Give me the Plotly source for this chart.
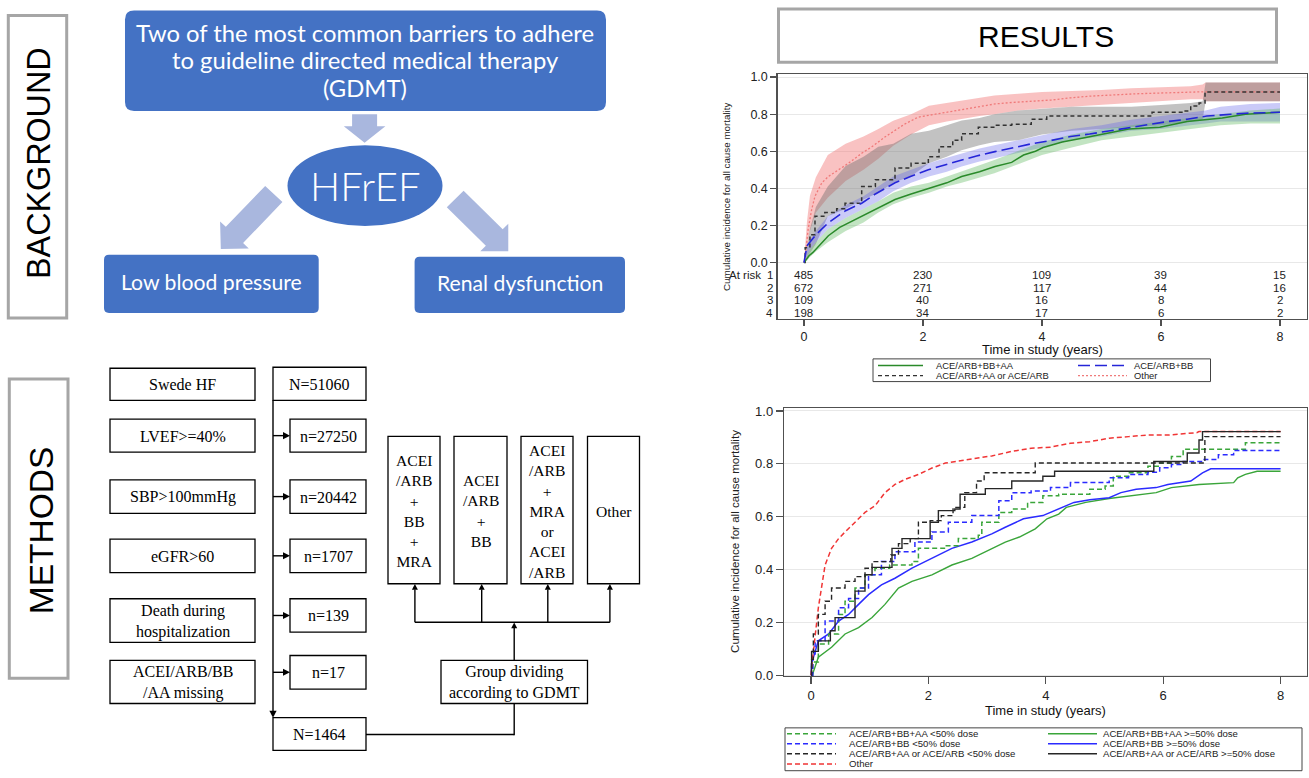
import math
import plotly.graph_objects as go

W, H = 1309, 778
def X(p): return p / W
def Y(p): return 1 - p / H

ARIAL = "Arial, Liberation Sans, sans-serif"
SERIF = "Times New Roman, Liberation Serif, serif"
CAL = "Lato, Open Sans, sans-serif"

# ---------------- text content ----------------
section_titles = ["BACKGROUND", "METHODS", "RESULTS"]
bg_top_lines = ["Two of the most common barriers to adhere", "to guideline directed medical therapy", "(GDMT)"]
bg_center = "HFrEF"
bg_barriers = ["Low blood pressure", "Renal dysfunction"]

left_labels = ["Swede HF", "LVEF&gt;=40%", "SBP&gt;100mmHg", "eGFR&gt;60",
               "Death during<br>hospitalization", "ACEI/ARB/BB<br>/AA missing"]
count_labels = ["N=51060", "n=27250", "n=20442", "n=1707", "n=139", "n=17"]
final_label = "N=1464"
group_divide_label = "Group dividing<br>according to GDMT"
group_labels = ["ACEI<br>/ARB<br>+<br>BB<br>+<br>MRA", "ACEI<br>/ARB<br>+<br>BB",
                "ACEI<br>/ARB<br>+<br>MRA<br>or<br>ACEI<br>/ARB", "Other"]

# ---------------- chart 1 data (with confidence bands) ----------------
km1_names = ["ACE/ARB+BB+AA", "ACE/ARB+BB", "ACE/ARB+AA or ACE/ARB", "Other"]

km1_green_t = [0, 0.085, 0.15, 0.25, 0.41, 0.6, 0.97, 1.2, 1.53, 1.8, 2.09, 2.4, 2.65, 2.95, 3.21, 3.49, 3.69,
               3.89, 4.02, 4.34, 4.67, 5.13, 5.46, 5.98, 6.44, 7.03, 7.42, 8.0]
km1_green_v = [0, 0.037, 0.055, 0.09, 0.145, 0.19, 0.25, 0.29, 0.34, 0.37, 0.40, 0.43, 0.464, 0.49, 0.518, 0.54, 0.58,
               0.60, 0.62, 0.65, 0.67, 0.70, 0.72, 0.73, 0.76, 0.78, 0.80, 0.81]

km1_blue_t = [0, 0.05, 0.2, 0.41, 0.7, 0.97, 1.2, 1.53, 1.8, 2.09, 2.35, 2.65, 2.9, 3.21, 3.49, 3.82, 4.15, 4.48,
              4.8, 5.13, 5.46, 5.79, 6.11, 6.44, 6.77, 7.42, 8.0]
km1_blue_v = [0, 0.09, 0.15, 0.215, 0.28, 0.32, 0.37, 0.43, 0.465, 0.50, 0.525, 0.553, 0.575, 0.598, 0.617, 0.64,
              0.658, 0.68, 0.693, 0.71, 0.727, 0.745, 0.76, 0.773, 0.79, 0.805, 0.81]

km1_black_t = [0, 0.02, 0.1, 0.185, 0.35, 0.55, 0.69, 0.97, 1.2, 1.53, 1.8, 2.09, 2.27, 2.5, 2.65, 2.93, 3.21, 3.49,
               3.82, 4.08, 5.85, 6.38, 6.5, 6.64, 6.74, 8.0]
km1_black_v = [0, 0.08, 0.15, 0.25, 0.27, 0.29, 0.32, 0.41, 0.446, 0.51, 0.535, 0.57, 0.624, 0.66, 0.695, 0.73, 0.74,
               0.745, 0.773, 0.79, 0.81, 0.817, 0.844, 0.86, 0.92, 0.92]

km1_pink_t = [0, 0.017, 0.07, 0.13, 0.185, 0.3, 0.41, 0.58, 0.745, 0.97, 1.14, 1.36, 1.53, 1.7, 1.92, 2.2, 2.54,
              2.87, 3.21, 3.49, 3.82, 4.15, 4.48, 4.8, 5.59, 6.31, 6.64, 8.0]
km1_pink_v = [0, 0.02, 0.18, 0.287, 0.358, 0.43, 0.464, 0.50, 0.535, 0.589, 0.624, 0.677, 0.713, 0.748, 0.784, 0.80,
              0.819, 0.837, 0.855, 0.863, 0.868, 0.876, 0.888, 0.897, 0.91, 0.915, 0.92, 0.92]

band_t = [0, 0.05, 0.1, 0.2, 0.4, 0.7, 1.0, 1.25, 1.5, 1.8, 2.1, 2.4, 2.65, 2.95, 3.2, 3.6, 4.0, 4.5, 5.0, 5.5,
          6.0, 6.5, 6.7, 6.75, 7.0, 7.5, 8.0]
pink_lo = [0, 0.08, 0.17, 0.27, 0.35, 0.44, 0.50, 0.56, 0.63, 0.69, 0.74, 0.76, 0.775, 0.79, 0.80, 0.82, 0.83, 0.84,
           0.85, 0.86, 0.87, 0.88, 0.88, 0.87, 0.87, 0.87, 0.87]
pink_hi = [0, 0.22, 0.36, 0.46, 0.58, 0.64, 0.68, 0.72, 0.765, 0.80, 0.845, 0.86, 0.872, 0.885, 0.90, 0.91, 0.92,
           0.925, 0.93, 0.94, 0.945, 0.95, 0.96, 0.97, 0.97, 0.97, 0.97]
gray_lo = [0, 0.02, 0.05, 0.10, 0.25, 0.29, 0.34, 0.376, 0.43, 0.465, 0.535, 0.57, 0.606, 0.633, 0.65, 0.66, 0.69,
           0.71, 0.72, 0.73, 0.74, 0.76, 0.77, 0.87, 0.87, 0.87, 0.87]
gray_hi = [0, 0.10, 0.18, 0.30, 0.41, 0.52, 0.57, 0.624, 0.64, 0.695, 0.71, 0.74, 0.766, 0.78, 0.80, 0.82, 0.83,
           0.84, 0.84, 0.84, 0.85, 0.86, 0.87, 0.97, 0.97, 0.97, 0.97]
blue_lo = [0, 0.04, 0.07, 0.11, 0.18, 0.24, 0.287, 0.33, 0.385, 0.43, 0.464, 0.49, 0.518, 0.545, 0.562, 0.59, 0.62,
           0.66, 0.68, 0.71, 0.72, 0.74, 0.75, 0.75, 0.76, 0.76, 0.76]
blue_hi = [0, 0.08, 0.12, 0.17, 0.25, 0.31, 0.358, 0.41, 0.464, 0.50, 0.535, 0.565, 0.589, 0.615, 0.633, 0.66, 0.69,
           0.72, 0.74, 0.77, 0.79, 0.81, 0.82, 0.82, 0.84, 0.855, 0.86]
green_lo = [0, 0.01, 0.03, 0.06, 0.11, 0.17, 0.216, 0.27, 0.314, 0.35, 0.376, 0.41, 0.43, 0.46, 0.482, 0.53, 0.58,
            0.62, 0.66, 0.68, 0.70, 0.72, 0.73, 0.73, 0.74, 0.75, 0.75]
green_hi = [0, 0.04, 0.07, 0.11, 0.18, 0.24, 0.287, 0.33, 0.376, 0.41, 0.43, 0.465, 0.49, 0.525, 0.553, 0.60, 0.65,
            0.69, 0.72, 0.74, 0.76, 0.78, 0.79, 0.79, 0.80, 0.82, 0.83]

risk_times = [0, 2, 4, 6, 8]
risk_row_labels = ["1", "2", "3", "4"]
risk_g1 = [485, 230, 109, 39, 15]
risk_g2 = [672, 271, 117, 44, 16]
risk_g3 = [109, 40, 16, 8, 2]
risk_g4 = [198, 34, 17, 6, 2]

# ---------------- chart 2 data (by dose) ----------------
km2_names = ["ACE/ARB+BB+AA &lt;50% dose", "ACE/ARB+BB &lt;50% dose", "ACE/ARB+AA or ACE/ARB &lt;50% dose", "Other",
             "ACE/ARB+BB+AA &gt;=50% dose", "ACE/ARB+BB &gt;=50% dose", "ACE/ARB+AA or ACE/ARB &gt;=50% dose"]

g_lo_t = [0, 0.03, 0.125, 0.3, 0.47, 0.58, 0.75, 0.92, 1.09, 1.34, 1.72, 1.83, 2.29, 2.51, 2.85, 2.91, 3.2, 3.42,
          3.69, 3.95, 4.22, 4.75, 5.01, 5.15, 5.41, 5.74, 5.94, 6.14, 6.34, 7.4, 8.0]
g_lo_v = [0, 0.05, 0.118, 0.156, 0.23, 0.28, 0.33, 0.38, 0.405, 0.417, 0.43, 0.48, 0.49, 0.517, 0.53, 0.579, 0.616,
          0.629, 0.654, 0.679, 0.685, 0.704, 0.716, 0.753, 0.766, 0.791, 0.803, 0.828, 0.855, 0.88, 0.88]

g_hi_t = [0, 0.03, 0.125, 0.35, 0.58, 0.81, 1.04, 1.26, 1.49, 1.72, 2.06, 2.4, 2.74, 3.08, 3.31, 3.55, 3.82, 4.02,
          4.22, 4.35, 4.68, 5.08, 5.41, 5.88, 6.14, 6.61, 7.2, 7.27, 7.4, 7.6, 8.0]
g_hi_v = [0, 0.006, 0.068, 0.106, 0.156, 0.18, 0.218, 0.268, 0.33, 0.355, 0.38, 0.417, 0.442, 0.48, 0.504, 0.523,
          0.554, 0.592, 0.61, 0.635, 0.654, 0.669, 0.679, 0.691, 0.71, 0.722, 0.729, 0.747, 0.76, 0.772, 0.772]

b_lo_t = [0, 0.03, 0.07, 0.24, 0.47, 0.64, 0.81, 0.98, 1.2, 1.43, 1.77, 2.06, 2.34, 2.74, 3.2, 3.42, 3.75, 4.08,
          4.42, 4.75, 5.08, 5.41, 5.74, 5.94, 6.14, 6.34, 6.67, 6.94, 7.2, 8.0]
b_lo_v = [0, 0.08, 0.13, 0.205, 0.255, 0.29, 0.33, 0.38, 0.43, 0.467, 0.504, 0.542, 0.579, 0.604, 0.66, 0.691, 0.697,
          0.71, 0.729, 0.729, 0.747, 0.76, 0.768, 0.785, 0.797, 0.809, 0.816, 0.834, 0.85, 0.85]

b_hi_t = [0, 0.01, 0.125, 0.3, 0.47, 0.64, 0.81, 0.98, 1.2, 1.43, 1.72, 2.06, 2.4, 2.74, 3.08, 3.31, 3.62, 3.95,
          4.22, 4.48, 4.75, 5.08, 5.28, 5.54, 5.88, 6.08, 6.47, 6.67, 6.81, 8.0]
b_hi_v = [0, 0.044, 0.13, 0.156, 0.205, 0.23, 0.268, 0.305, 0.342, 0.367, 0.405, 0.442, 0.48, 0.504, 0.535, 0.56,
          0.592, 0.604, 0.629, 0.654, 0.664, 0.672, 0.691, 0.704, 0.71, 0.722, 0.735, 0.766, 0.781, 0.781]

k_lo_t = [0, 0.01, 0.04, 0.125, 0.24, 0.35, 0.58, 0.75, 0.92, 1.04, 1.36, 1.49, 1.69, 1.83, 2.03, 2.22, 2.42, 2.62,
          2.82, 2.95, 3.78, 3.82, 6.67, 6.71, 8.0]
k_lo_v = [0, 0.06, 0.156, 0.23, 0.28, 0.33, 0.355, 0.373, 0.405, 0.43, 0.455, 0.498, 0.517, 0.579, 0.585, 0.604,
          0.635, 0.691, 0.735, 0.766, 0.766, 0.803, 0.803, 0.903, 0.903]

k_hi_t = [0, 0.01, 0.125, 0.3, 0.33, 0.41, 0.58, 0.75, 0.92, 1.04, 1.26, 1.38, 1.55, 2.0, 2.03, 2.17, 2.45, 2.54,
          2.97, 3.42, 3.95, 4.15, 5.81, 5.84, 6.34, 6.41, 6.61, 6.67, 8.0]
k_hi_v = [0, 0.09, 0.13, 0.13, 0.168, 0.218, 0.218, 0.318, 0.38, 0.408, 0.408, 0.48, 0.517, 0.517, 0.579, 0.623,
          0.629, 0.685, 0.706, 0.735, 0.753, 0.772, 0.772, 0.809, 0.809, 0.841, 0.89, 0.922, 0.922]

r_t = [0, 0.01, 0.125, 0.24, 0.35, 0.47, 0.58, 0.75, 0.92, 1.09, 1.26, 1.43, 1.6, 1.83, 2.06, 2.29, 2.63, 3.08,
       3.42, 3.75, 4.08, 4.42, 4.75, 5.08, 5.41, 5.74, 6.08, 6.57, 6.61, 8.0]
r_v = [0, 0.03, 0.255, 0.417, 0.48, 0.517, 0.542, 0.579, 0.616, 0.641, 0.691, 0.722, 0.741, 0.76, 0.784, 0.803,
       0.815, 0.83, 0.847, 0.859, 0.863, 0.878, 0.884, 0.897, 0.903, 0.909, 0.909, 0.918, 0.922, 0.922]

x_ticks = [0, 2, 4, 6, 8]
y_ticks = [0.0, 0.2, 0.4, 0.6, 0.8, 1.0]
x_title = "Time in study (years)"
y_title = "Cumulative incidence for all cause mortality"

# ---------------- colours ----------------
BLUE_BOX = "#4472C4"
ARROW = "#A9B7DE"
SEC_GRAY = "#A6A6A6"

shapes = []
annotations = []

def pt(x, y):
    return "%.5f,%.5f" % (X(x), Y(y))

def poly(points, fill, line_color=None, lw=0):
    path = "M " + " L ".join(pt(*p) for p in points) + " Z"
    shapes.append(dict(type="path", xref="paper", yref="paper", path=path, fillcolor=fill,
                       line=dict(color=line_color or fill, width=lw), layer="above"))

def rect(x0, y0, x1, y1, color="black", lw=1.3, fill="white"):
    shapes.append(dict(type="rect", xref="paper", yref="paper", x0=X(x0), x1=X(x1), y0=Y(y1), y1=Y(y0),
                       line=dict(color=color, width=lw), fillcolor=fill, layer="above"))

def rrect(x0, y0, x1, y1, r, fill):
    p = ("M %s L %s Q %s %s L %s Q %s %s L %s Q %s %s L %s Q %s %s Z" % (
        pt(x0 + r, y0), pt(x1 - r, y0), pt(x1, y0), pt(x1, y0 + r), pt(x1, y1 - r), pt(x1, y1), pt(x1 - r, y1),
        pt(x0 + r, y1), pt(x0, y1), pt(x0, y1 - r), pt(x0, y0 + r), pt(x0, y0), pt(x0 + r, y0)))
    shapes.append(dict(type="path", xref="paper", yref="paper", path=p, fillcolor=fill,
                       line=dict(color=fill, width=0), layer="above"))

def line(x0, y0, x1, y1, color="black", lw=1.4, dash=None):
    d = dict(color=color, width=lw)
    if dash:
        d["dash"] = dash
    shapes.append(dict(type="line", xref="paper", yref="paper", x0=X(x0), y0=Y(y0), x1=X(x1), y1=Y(y1),
                       line=d, layer="above"))

def text(x, y, s, size, family, color="black", angle=0, xanchor="center", weight=None):
    f = dict(size=size, family=family, color=color)
    if weight:
        f["weight"] = weight
    annotations.append(dict(xref="paper", yref="paper", x=X(x), y=Y(y), text=s, showarrow=False,
                            xanchor=xanchor, yanchor="middle", font=f, textangle=angle, borderpad=0))

def block_arrow(tail, tip, shw, hhw, hl, fill):
    dx, dy = tip[0] - tail[0], tip[1] - tail[1]
    L = math.hypot(dx, dy)
    ux, uy = dx / L, dy / L
    nx, ny = -uy, ux
    bx, by = tip[0] - ux * hl, tip[1] - uy * hl
    pts = [(tail[0] + nx * shw, tail[1] + ny * shw), (bx + nx * shw, by + ny * shw),
           (bx + nx * hhw, by + ny * hhw), tip, (bx - nx * hhw, by - ny * hhw),
           (bx - nx * shw, by - ny * shw), (tail[0] - nx * shw, tail[1] - ny * shw)]
    poly(pts, fill)

def head(tip, direction, length=7, hw=3.6):
    ux, uy = direction
    nx, ny = -uy, ux
    bx, by = tip[0] - ux * length, tip[1] - uy * length
    poly([(bx + nx * hw, by + ny * hw), tip, (bx - nx * hw, by - ny * hw)], "black")

# ---------------- BACKGROUND ----------------
rect(8.3, 11.7, 66.7, 318, color=SEC_GRAY, lw=3, fill="rgba(0,0,0,0)")
text(39, 161, section_titles[0], 32.3, ARIAL, angle=-90)
rrect(125, 6.7, 606, 108.3, 9, BLUE_BOX)
for yy, s in zip([29, 57, 85], bg_top_lines):
    text(365, yy, s, 23.8, CAL, color="white")
block_arrow((364.6, 111.7), (364.6, 140.5), 12.5, 20.8, 16.7, ARROW)
shapes.append(dict(type="circle", xref="paper", yref="paper", x0=X(287.5), x1=X(442.5), y0=Y(225), y1=Y(143),
                   fillcolor=BLUE_BOX, line=dict(color=BLUE_BOX, width=0), layer="above"))
text(365, 184, bg_center, 40, CAL, color="white", weight=300)
block_arrow((273.8, 192.5), (220.8, 248.3), 11.9, 19.8, 19.8, ARROW)
block_arrow((455.2, 197.5), (508.3, 250.5), 11.9, 19.8, 19.8, ARROW)
rrect(104, 254, 318.7, 313, 5, BLUE_BOX)
rrect(414.6, 256, 625, 313, 5, BLUE_BOX)
text(211, 282, bg_barriers[0], 21.2, CAL, color="white")
text(519.5, 283, bg_barriers[1], 21.2, CAL, color="white")

# ---------------- METHODS ----------------
rect(9.3, 380, 68, 683, color=SEC_GRAY, lw=3, fill="rgba(0,0,0,0)")
text(41, 533, section_titles[1], 33.5, ARIAL, angle=-90)

left_y = [(369, 401.5), (420.5, 454), (482, 516), (542, 576), (602.5, 646.6), (665, 708.6)]
count_y = [(368, 401.5), (420.5, 454), (482, 516), (542, 576), (602.5, 636.4), (660, 694)]
for (y0, y1), lab in zip(left_y, left_labels):
    rect(110, y0, 255, y1)
    text(182.5, (y0 + y1) / 2 + 0.5, lab, 16, SERIF)
for i, ((y0, y1), lab) in enumerate(zip(count_y, count_labels)):
    if i == 0:
        rect(273, y0, 366, y1)
        text(319.5, (y0 + y1) / 2 + 0.5, lab, 16, SERIF)
    else:
        rect(290, y0, 366, y1)
        text(328, (y0 + y1) / 2 + 0.5, lab, 16, SERIF)
        ym = (y0 + y1) / 2
        line(273, ym, 285, ym)
        head((290, ym), (1, 0))
line(273, 401.5, 273, 717)
head((273, 723), (0, 1))
rect(273, 723, 366, 756)
text(319.5, 740, final_label, 16, SERIF)
line(366, 740, 514.2, 740)
line(514.2, 740.7, 514.2, 708.6)
rect(441, 665, 587.5, 708.6)
text(514.2, 687.5, group_divide_label, 16, SERIF)
line(514.2, 665, 514.2, 631)
head((514.2, 626.5), (0, -1), length=6, hw=3)
line(414.9, 626.3, 609.9, 626.3)
group_x = [(388, 440), (454, 507), (521, 573), (587.5, 639.5)]
arrow_x = [414.9, 481.7, 547.8, 609.9]
for (x0, x1), ax, lab in zip(group_x, arrow_x, group_labels):
    rect(x0, 438, x1, 587.3)
    text((x0 + x1) / 2, 514, lab, 15.6, SERIF)
    line(ax, 626.3, ax, 593)
    head((ax, 587.5), (0, -1), length=6, hw=3)

# ---------------- RESULTS ----------------
rect(778.5, 5, 1276.5, 59, color=SEC_GRAY, lw=3, fill="rgba(0,0,0,0)")
text(1046, 33, section_titles[2], 30, ARIAL)

# ---------------- chart traces ----------------
fig = go.Figure()

def band(lo, hi, color, xa, ya):
    fig.add_trace(go.Scatter(x=band_t, y=lo, mode="lines", line=dict(width=0),
                             xaxis=xa, yaxis=ya, hoverinfo="skip", showlegend=False))
    fig.add_trace(go.Scatter(x=band_t, y=hi, mode="lines", line=dict(width=0), fill="tonexty",
                             fillcolor=color, xaxis=xa, yaxis=ya, hoverinfo="skip", showlegend=False))

def curve(t, v, color, width, dash, xa, ya, name, shape="hv"):
    fig.add_trace(go.Scatter(x=t, y=v, mode="lines", name=name,
                             line=dict(color=color, width=width, dash=dash, shape=shape),
                             xaxis=xa, yaxis=ya, hoverinfo="skip", showlegend=False))

band(pink_lo, pink_hi, "rgba(240,110,110,0.42)", "x", "y")
band(gray_lo, gray_hi, "rgba(110,110,110,0.42)", "x", "y")
band(blue_lo, blue_hi, "rgba(95,95,235,0.33)", "x", "y")
band(green_lo, green_hi, "rgba(95,185,95,0.38)", "x", "y")

C1 = dict(green="#2a8a2a", blue="#2525d8", black="#333333", pink="#f07a7a")
curve(km1_pink_t, km1_pink_v, C1["pink"], 1.3, "2px,2px", "x", "y", km1_names[3], "linear")
curve(km1_black_t, km1_black_v, C1["black"], 1.5, "4px,3px", "x", "y", km1_names[2])
curve(km1_green_t, km1_green_v, C1["green"], 1.5, "solid", "x", "y", km1_names[0], "linear")
curve(km1_blue_t, km1_blue_v, C1["blue"], 1.6, "12px,5px", "x", "y", km1_names[1], "linear")

C2 = dict(green="#3aa53a", blue="#2b2bff", black="#262626", red="#f03535")
DASH = "5px,3px"
curve(g_hi_t, g_hi_v, C2["green"], 1.4, "solid", "x2", "y2", km2_names[4], "linear")
curve(b_hi_t, b_hi_v, C2["blue"], 1.5, "solid", "x2", "y2", km2_names[5], "linear")
curve(g_lo_t, g_lo_v, C2["green"], 1.5, DASH, "x2", "y2", km2_names[0])
curve(b_lo_t, b_lo_v, C2["blue"], 1.5, DASH, "x2", "y2", km2_names[1])
curve(r_t, r_v, C2["red"], 1.5, DASH, "x2", "y2", km2_names[3], "linear")
curve(k_lo_t, k_lo_v, C2["black"], 1.4, DASH, "x2", "y2", km2_names[2])
curve(k_hi_t, k_hi_v, C2["black"], 1.4, "solid", "x2", "y2", km2_names[6])

# at-risk table (chart 1)
text(762, 275, "At risk", 11.5, ARIAL, color="#222", xanchor="right")
risk_y = [275, 287.7, 300, 312.7]
for lab, ry, row in zip(risk_row_labels, risk_y, [risk_g1, risk_g2, risk_g3, risk_g4]):
    text(773.5, ry, lab, 11.5, ARIAL, color="#222", xanchor="right")
    for t, n in zip(risk_times, row):
        annotations.append(dict(xref="x", yref="paper", x=t, y=Y(ry), text=str(n), showarrow=False,
                                xanchor="center", yanchor="middle", borderpad=0,
                                font=dict(size=11.5, family=ARIAL, color="#222")))

# axis titles
text(1042, 350, x_title, 13, ARIAL, color="#111")
text(726.5, 195, y_title, 9.8, ARIAL, color="#222", angle=-90)
text(1045, 716, x_title, 13, ARIAL, color="#111")
text(735, 545, y_title, 11.6, ARIAL, color="#222", angle=-90)

# legend 1
rect(873, 359.5, 1210.5, 382.5, color="#444", lw=1, fill="rgba(0,0,0,0)")
leg1 = [(878, 923, 935, 366.2, C1["green"], "solid", km1_names[0]),
        (878, 923, 935, 376.5, C1["black"], "4px,3px", km1_names[2]),
        (1078, 1127, 1133, 366.2, C1["blue"], "12px,5px", km1_names[1]),
        (1078, 1127, 1133, 376.5, C1["pink"], "2px,2px", km1_names[3])]
for x0, x1, tx, yy, col, dsh, lab in leg1:
    line(x0, yy, x1, yy, color=col, lw=1.4, dash=dsh)
    text(tx, yy, lab, 9.4, ARIAL, color="#222", xanchor="left")

# legend 2
rect(785, 733.3, 1302, 776.7, color="#444", lw=1, fill="rgba(0,0,0,0)")
rows2 = [739.2, 749.4, 759.6, 769.8]
leg2 = [(787, 836, 847.8, rows2[0], C2["green"], DASH, km2_names[0]),
        (787, 836, 847.8, rows2[1], C2["blue"], DASH, km2_names[1]),
        (787, 836, 847.8, rows2[2], C2["black"], DASH, km2_names[2]),
        (787, 836, 847.8, rows2[3], C2["red"], DASH, km2_names[3]),
        (1048, 1097, 1102, rows2[0], C2["green"], "solid", km2_names[4]),
        (1048, 1097, 1102, rows2[1], C2["blue"], "solid", km2_names[5]),
        (1048, 1097, 1102, rows2[2], C2["black"], "solid", km2_names[6])]
for x0, x1, tx, yy, col, dsh, lab in leg2:
    line(x0, yy, x1, yy, color=col, lw=1.5, dash=dsh)
    text(tx, yy, lab, 9.6, ARIAL, color="#222", xanchor="left")

AX = dict(showline=True, linecolor="#505050", linewidth=1.2, mirror=True, zeroline=False, ticks="outside",
          tickcolor="#505050", tickwidth=1.2, fixedrange=True)
fig.update_layout(
    width=W, height=H, margin=dict(l=0, r=0, t=0, b=0),
    paper_bgcolor="white", plot_bgcolor="white", showlegend=False,
    xaxis=dict(AX, domain=[X(777.5), X(1307)], range=[-0.445, 8.454], tickvals=x_ticks, ticklen=6,
               showgrid=False, anchor="y", tickfont=dict(size=12.5, family=ARIAL, color="#222")),
    yaxis=dict(AX, domain=[Y(319.3), Y(70.7)], range=[-0.305, 1.0176], tickvals=y_ticks, tickformat=".1f",
               ticklen=6, showgrid=True, gridcolor="#e8e8e8", anchor="x",
               tickfont=dict(size=12.5, family=ARIAL, color="#222")),
    xaxis2=dict(AX, domain=[X(784), X(1307)], range=[-0.46, 8.45], tickvals=x_ticks, ticklen=7,
                showgrid=False, anchor="y2", tickfont=dict(size=13, family=ARIAL, color="#222")),
    yaxis2=dict(AX, domain=[Y(681), Y(409)], range=[-0.004, 1.0123], tickvals=y_ticks, tickformat=".1f",
                ticklen=7, showgrid=True, gridcolor="#e8e8e8", anchor="x2",
                tickfont=dict(size=13, family=ARIAL, color="#222")),
    shapes=shapes, annotations=annotations,
)

fig.write_html("out.html", include_plotlyjs=True, full_html=True,
               config={"displayModeBar": False, "staticPlot": True},
               post_script="document.body.style.margin='0';document.body.style.overflow='hidden';")
